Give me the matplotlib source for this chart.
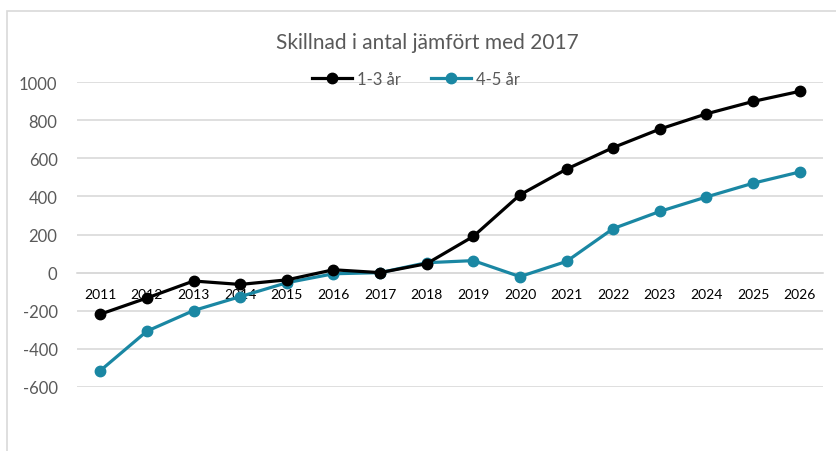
import matplotlib
matplotlib.use("Agg")
import matplotlib.pyplot as plt
from matplotlib.patches import Rectangle

# Data
years = ["2011", "2012", "2013", "2014", "2015", "2016", "2017", "2018",
         "2019", "2020", "2021", "2022", "2023", "2024", "2025", "2026"]
barn_1_3 = [-218, -133, -44, -62, -38, 15, 0, 47,
            190, 408, 543, 656, 753, 833, 898, 951]
barn_4_5 = [-514, -307, -199, -126, -53, -6, 0, 52,
            63, -21, 59, 231, 321, 397, 469, 528]
serie_namn = ["1-3 år", "4-5 år"]
y_ticks = [-600, -400, -200, 0, 200, 400, 600, 800, 1000]

GRAY = "#595959"
GRID = "#d9d9d9"
TEAL = "#1a87a3"

plt.rcParams["font.family"] = ["Lato", "DejaVu Sans"]

W, H = 837, 452
fig = plt.figure(figsize=(W / 100, H / 100), dpi=100)
ax = fig.add_axes([77 / W, 1 - 388 / H, (823 - 77) / W, (388 - 83) / H])

x = list(range(len(years)))
ax.plot(x, barn_1_3, color="black", lw=2.3, marker="o", ms=7.5, label=serie_namn[0], zorder=4)
ax.plot(x, barn_4_5, color=TEAL, lw=2.3, marker="o", ms=7.5, label=serie_namn[1], zorder=3)

ax.set_xlim(-0.5, len(years) - 0.5)
ax.set_ylim(-600, 1000)
ax.set_yticks(y_ticks)
ax.set_yticklabels([str(v) for v in y_ticks], color=GRAY, fontsize=12)
ax.tick_params(axis="y", length=0, pad=14)
ax.grid(True, axis="y", color=GRID, lw=1.2)
ax.set_axisbelow(True)

# x-axis sits at zero, labels just below
ax.set_xticks(x)
ax.set_xticklabels(years, color=GRAY, fontsize=12)
ax.spines["bottom"].set_position(("data", 0))
ax.spines["bottom"].set_color(GRID)
ax.spines["bottom"].set_linewidth(1.2)
ax.tick_params(axis="x", length=0, pad=11)
for s in ("top", "right", "left"):
    ax.spines[s].set_visible(False)

fig.text(427 / W, 1 - 43 / H, "Skillnad i antal jämfört med 2017",
         ha="center", va="center", fontsize=15, color=GRAY)

fig.legend(loc="center", bbox_to_anchor=(416 / W, 1 - 80 / H), ncol=2,
           frameon=False, fontsize=12, labelcolor=GRAY, handlelength=2.4,
           columnspacing=1.8, handletextpad=0.3)

# chart border
fig.patches.append(Rectangle((7 / W, -0.1), 1.1, 1.1 - 12 / H,
                             transform=fig.transFigure, fill=False,
                             edgecolor=GRID, lw=1.2))

fig.savefig("out.png", dpi=100)
